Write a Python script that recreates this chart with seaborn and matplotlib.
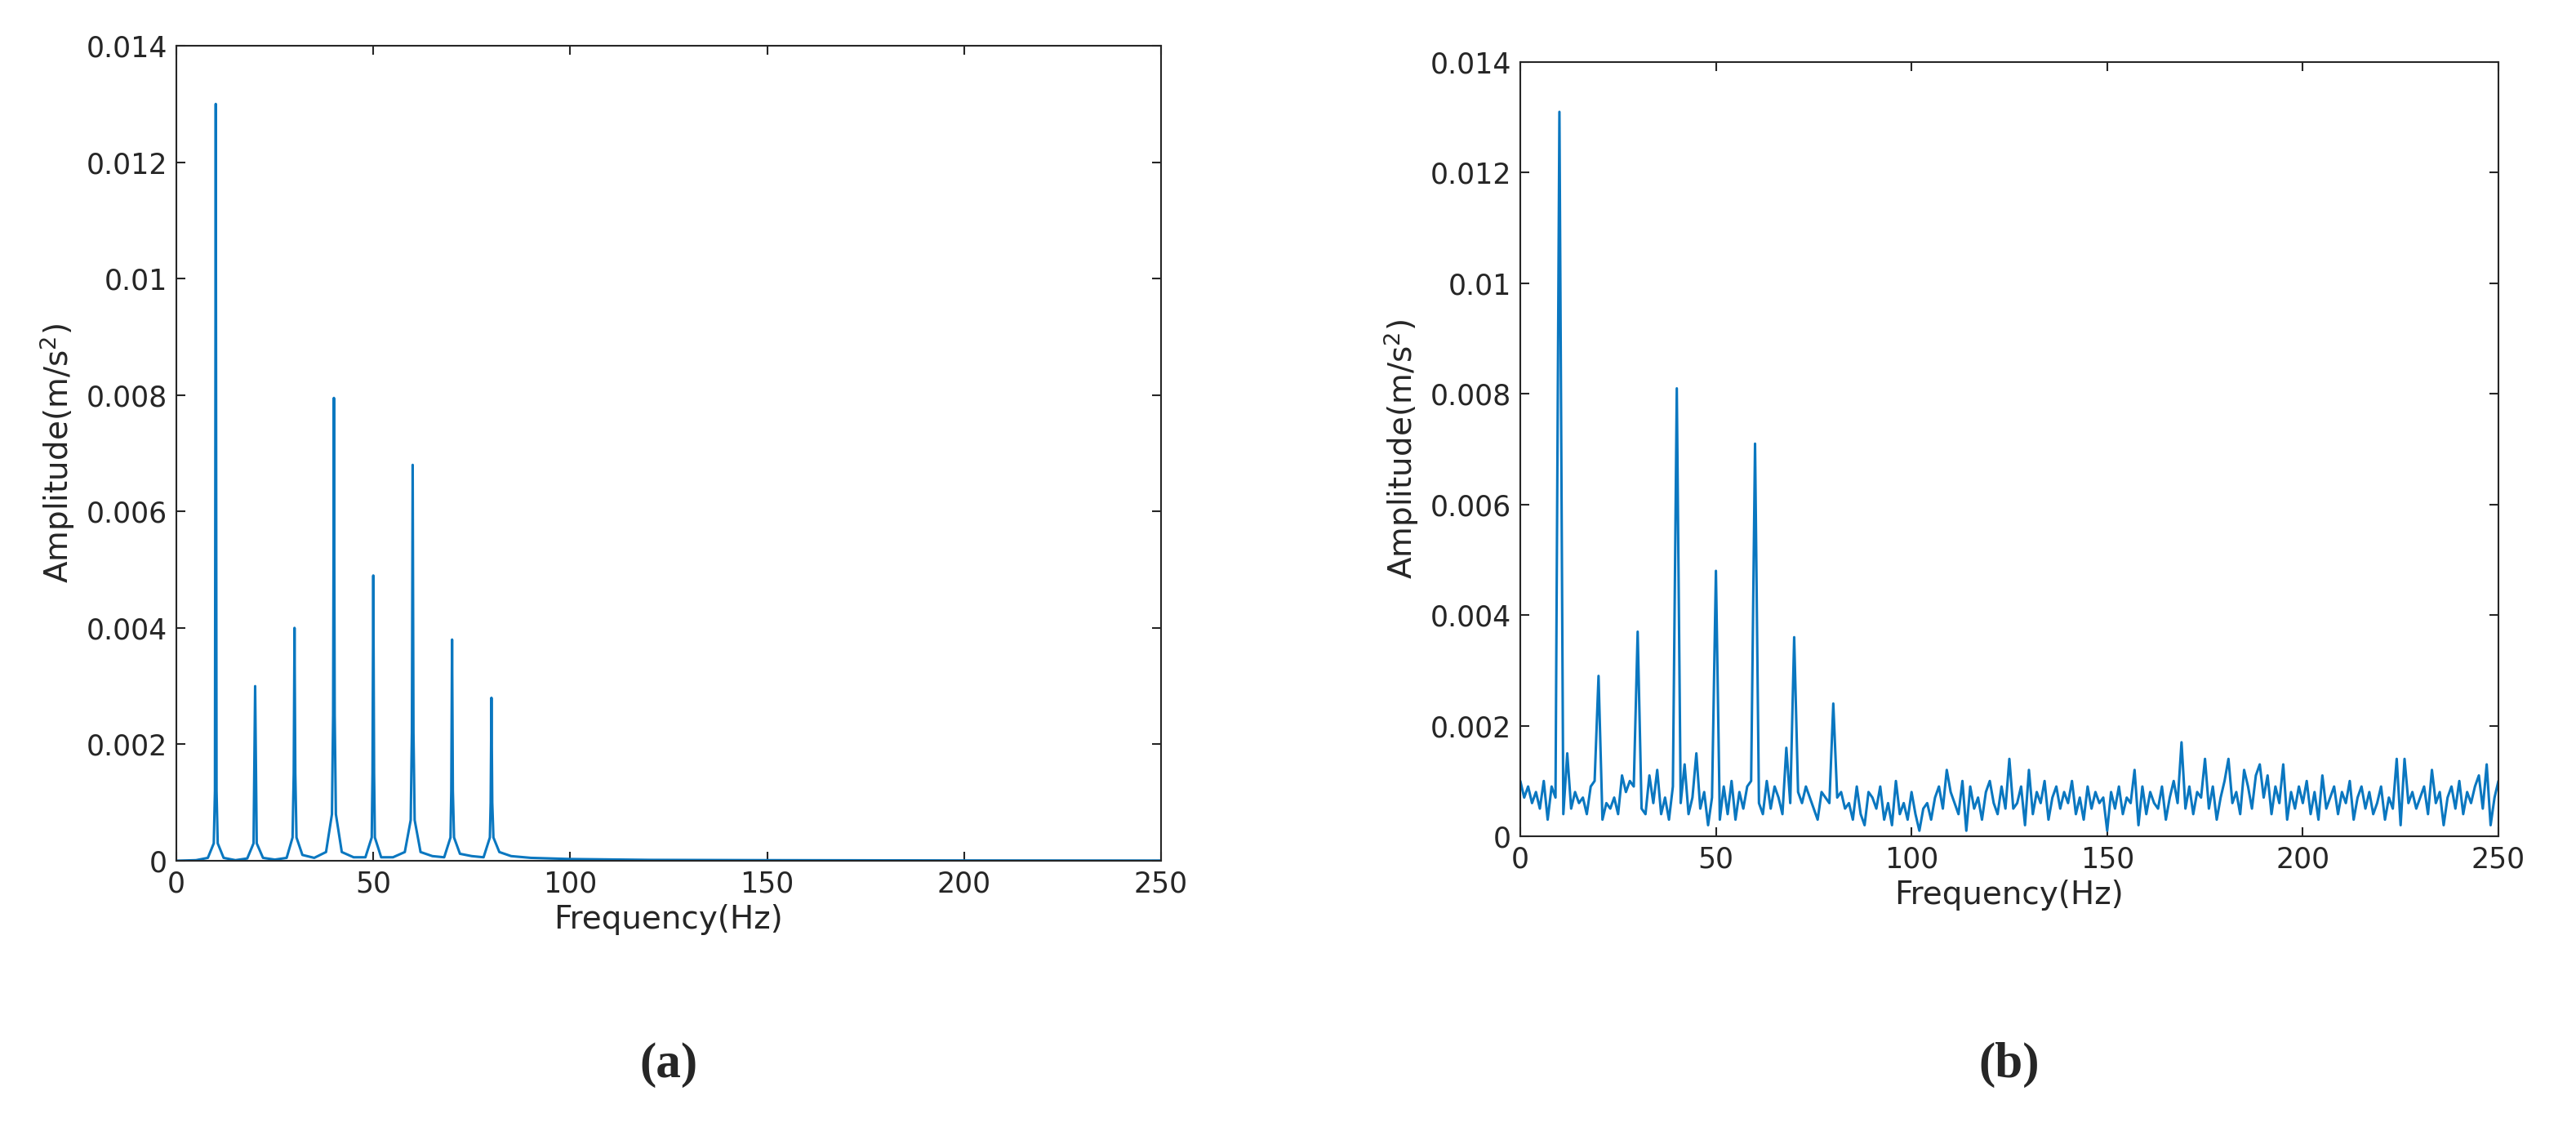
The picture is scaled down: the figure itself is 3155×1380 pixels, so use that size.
import numpy as np
import pandas as pd
import matplotlib
matplotlib.use("Agg")
import matplotlib.pyplot as plt
import seaborn as sns

# Panel (a): spectrum sample points (amplitude in 1e-4 m/s^2)
freq_a = [0, 5, 8, 9.5, 9.8, 10, 10.2, 10.5, 12, 15, 18, 19.6, 20, 20.4, 22, 25, 28,
          29.5, 29.8, 30, 30.2, 30.5, 32, 35, 38, 39.5, 39.8, 40, 40.2, 40.5, 42, 45, 48,
          49.6, 49.8, 50, 50.2, 50.4, 52, 55, 58, 59.5, 59.8, 60, 60.2, 60.5, 62, 65, 68,
          69.6, 69.8, 70, 70.2, 70.5, 72, 75, 78, 79.6, 79.8, 80, 80.2, 80.5,
          82, 85, 90, 100, 120, 150, 200, 250]
amp_a = [0, 0.1, 0.5, 3, 12, 130, 12, 3, 0.5, 0.1, 0.4, 3, 30, 3, 0.5, 0.2, 0.5,
         4, 15, 40, 15, 4, 1, 0.5, 1.5, 8, 25, 79.5, 25, 8, 1.5, 0.6, 0.6,
         4, 15, 49, 15, 4, 0.6, 0.6, 1.5, 7, 22, 68, 22, 7, 1.5, 0.8, 0.6,
         4, 12, 38, 12, 4, 1.2, 0.8, 0.6, 4, 10, 28, 10, 4,
         1.5, 0.8, 0.5, 0.3, 0.15, 0.1, 0.05, 0.03]

# Panel (b): noisy spectrum at 1 Hz steps, 0..250 Hz (amplitude in 1e-4 m/s^2)
amp_b = [10,7,9,6,8,5,10,3,9,7,
         131,4,15,5,8,6,7,4,9,10,
         29,3,6,5,7,4,11,8,10,9,
         37,5,4,11,6,12,4,7,3,9,
         81,6,13,4,7,15,5,8,2,7,
         48,3,9,4,10,3,8,5,9,10,
         71,6,4,10,5,9,7,4,16,6,
         36,8,6,9,7,5,3,8,7,6,
         24,7,8,5,6,3,9,4,2,8,
         7,5,9,3,6,2,10,4,6,3,
         8,4,1,5,6,3,7,9,5,12,
         8,6,4,10,1,9,5,7,3,8,
         10,6,4,9,5,14,5,6,9,2,
         12,4,8,6,10,3,7,9,5,8,
         6,10,4,7,3,9,5,8,6,7,
         1,8,5,9,4,7,6,12,2,9,
         4,8,6,5,9,3,7,10,6,17,
         5,9,4,8,7,14,5,9,3,7,
         10,14,6,8,4,12,9,5,11,13,
         7,11,4,9,6,13,3,8,5,9,
         6,10,4,8,3,11,5,7,9,4,
         8,6,10,3,7,9,5,8,4,6,
         9,3,7,5,14,2,14,6,8,5,
         7,9,4,12,6,8,2,7,9,5,
         10,4,8,6,9,11,5,13,2,7,
         10]
freq_b = list(range(len(amp_b)))

df_a = pd.DataFrame({"f": freq_a, "a": np.array(amp_a) * 1e-4})
df_b = pd.DataFrame({"f": freq_b, "a": np.array(amp_b) * 1e-4})

sns.set_theme(style="white")
plt.rcParams['font.family'] = ['DejaVu Sans']
color = "#0A77C0"

fig = plt.figure(figsize=(31.55, 13.8), dpi=100)
ax1 = fig.add_axes([216/3155, 1 - 1054/1380, (1422-216)/3155, (1054-56)/1380])
ax2 = fig.add_axes([1862/3155, 1 - 1024/1380, (3060-1862)/3155, (1024-76)/1380])

for ax, df in [(ax1, df_a), (ax2, df_b)]:
    sns.lineplot(data=df, x="f", y="a", ax=ax, color=color, linewidth=2.2)
    ax.set_xlim(0, 250)
    ax.set_ylim(0, 0.014)
    ax.set_xticks([0, 50, 100, 150, 200, 250])
    ax.set_yticks(np.arange(0, 0.0141, 0.002))
    ax.set_yticklabels(["0", "0.002", "0.004", "0.006", "0.008", "0.01", "0.012", "0.014"])
    ax.tick_params(direction="in", length=8, width=1.5, labelsize=25, colors="#262626",
                   top=True, right=True, bottom=True, left=True, pad=8)
    for s in ax.spines.values():
        s.set_color("#262626")
        s.set_linewidth(1.5)
    ax.set_xlabel("Frequency(Hz)", fontsize=28, color="#262626", labelpad=6)
    ax.set_ylabel("Amplitude(m/s$^2$)", fontsize=28, color="#262626", labelpad=8)

fig.text((216+1422)/2/3155, 0.055, "(a)", ha="center", va="center",
         fontsize=44, family="Liberation Serif", fontweight="bold")
fig.text((1862+3060)/2/3155, 0.055, "(b)", ha="center", va="center",
         fontsize=44, family="Liberation Serif", fontweight="bold")

fig.savefig("out.png", dpi=100, facecolor="white")
